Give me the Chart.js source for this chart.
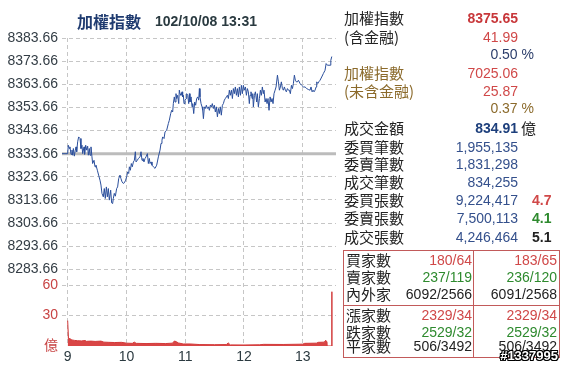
<!DOCTYPE html>
<html>
<head>
<meta charset="utf-8">
<script src="https://cdn.jsdelivr.net/npm/chart.js@4.4.0/dist/chart.umd.min.js"></script>
<style>
  body { margin: 0; width: 564px; height: 366px; background: #fff; position: relative; overflow: hidden; }
  #box { position: absolute; left: 0; top: 0; width: 338px; height: 366px; }
  .t { position: absolute; white-space: nowrap; }
  .line { position: absolute; background: #c25a5a; }
</style>
</head>
<body>
<div id="box"><canvas id="chart"></canvas></div>
<script>
// index, minutes after 09:00
var priceMin = [-5.8, 0, 0.6, 1.7, 2.3, 3.4, 4.4, 5.1, 5.8, 6.8,
  7.8, 8.5, 9.2, 10.2, 11.2, 12.6, 13.6, 14.6, 15.3, 16.7,
  17.3, 18.4, 19.4, 20.4, 21.1, 22.1, 22.8, 23.8, 24.8, 25.5,
  26.9, 27.9, 28.9, 30.3, 31.6, 33.0, 34.0, 35.0, 36.4, 37.4,
  38.4, 39.5, 40.5, 41.5, 42.5, 43.9, 44.9, 45.9, 46.6, 47.6,
  48.7, 50.0, 51.0, 52.1, 53.4, 54.4, 55.5, 56.8, 57.9, 59.2,
  60.2, 61.3, 62.3, 63.0, 64.0, 65.0, 66.0, 67.1, 68.1, 69.1,
  69.8, 71.1, 72.2, 73.9, 74.9, 75.9, 76.9, 77.9, 79.0, 80.0,
  81.4, 82.4, 83.4, 84.1, 85.1, 86.1, 87.5, 89.2, 90.9, 92.6,
  94.3, 95.3, 96.3, 97.0, 98.4, 99.4, 101.1, 102.8, 103.8, 105.2,
  106.2, 107.2, 107.9, 108.9, 109.6, 110.6, 111.3, 112.3, 113.4, 114.0,
  114.7, 115.7, 116.8, 117.4, 118.1, 118.8, 119.8, 120.9, 121.5, 122.6,
  123.6, 124.3, 124.9, 126.0, 127.0, 127.7, 128.7, 129.7, 130.7, 131.7,
  132.8, 133.8, 134.5, 135.1, 136.2, 137.2, 137.9, 138.6, 139.6, 140.6,
  141.6, 142.6, 143.7, 144.7, 145.7, 146.7, 147.7, 148.8, 149.8, 150.8,
  151.8, 152.9, 153.9, 154.9, 155.9, 156.9, 158.0, 159.0, 160.0, 161.0,
  162.1, 163.1, 164.1, 165.1, 166.1, 167.2, 168.2, 169.2, 170.2, 171.2,
  172.3, 173.3, 174.3, 175.3, 176.4, 177.4, 178.4, 179.4, 180.4, 181.5,
  182.5, 183.5, 184.5, 185.5, 186.2, 187.2, 188.3, 189.0, 189.6, 190.7,
  191.7, 193.0, 193.7, 194.7, 195.8, 196.8, 197.8, 198.8, 199.8, 200.5,
  201.6, 202.6, 203.6, 204.6, 205.6, 206.7, 207.7, 208.7, 209.7, 210.7,
  211.8, 212.8, 214.2, 215.2, 216.2, 217.2, 218.2, 219.3, 220.3, 221.3,
  222.3, 223.3, 224.4, 225.4, 226.4, 227.4, 228.5, 229.5, 230.5, 231.5,
  232.5, 233.6, 234.6, 235.6, 237.3, 239.0, 240.7, 242.4, 244.1, 245.8,
  247.5, 248.5, 249.6, 250.6, 251.6, 252.6, 253.7, 254.3, 255.4, 256.4,
  257.7, 259.4, 261.1, 262.8, 263.9, 265.2, 268.0, 268.7, 269.7];
var priceVal = [8333.66, 8333.66, 8337.3, 8335.9, 8336.6, 8333.4, 8335.2, 8333.0, 8335.9, 8332.6,
  8335.2, 8336.6, 8334.5, 8338.8, 8340.9, 8340.2, 8335.9, 8337.3, 8333.7, 8336.6,
  8333.4, 8337.3, 8335.2, 8336.9, 8333.0, 8335.9, 8333.0, 8336.6, 8332.3, 8329.4,
  8330.8, 8328.0, 8328.7, 8326.5, 8324.4, 8322.2, 8320.1, 8316.5, 8315.0, 8318.6,
  8314.3, 8319.3, 8315.0, 8318.6, 8313.6, 8317.9, 8312.4, 8312.1, 8314.3, 8316.5,
  8315.3, 8318.6, 8319.3, 8322.9, 8324.4, 8322.9, 8321.5, 8320.8, 8321.1, 8322.2,
  8323.7, 8325.8, 8325.1, 8328.0, 8326.5, 8329.4, 8328.0, 8330.1, 8330.8, 8334.5,
  8330.1, 8330.8, 8331.6, 8332.3, 8334.5, 8330.8, 8331.6, 8330.1, 8331.6, 8332.3,
  8333.7, 8329.4, 8331.6, 8329.4, 8330.1, 8328.7, 8328.0, 8327.3, 8328.7, 8332.3,
  8335.2, 8338.1, 8339.5, 8340.9, 8340.2, 8343.1, 8343.8, 8346.7, 8348.1, 8351.0,
  8352.4, 8351.7, 8355.3, 8358.2, 8356.0, 8359.6, 8357.5, 8358.9, 8355.3, 8361.1,
  8359.6, 8358.9, 8360.4, 8358.2, 8358.9, 8355.3, 8356.8, 8357.5, 8359.6, 8358.9,
  8355.3, 8359.6, 8356.0, 8358.2, 8353.9, 8355.3, 8351.0, 8356.0, 8354.6, 8357.5,
  8358.2, 8356.8, 8361.8, 8358.2, 8355.3, 8353.9, 8352.4, 8348.8, 8353.9, 8353.2,
  8354.6, 8353.2, 8353.9, 8352.4, 8354.6, 8353.9, 8355.3, 8353.2, 8354.6, 8351.7,
  8353.9, 8349.6, 8353.2, 8351.0, 8353.9, 8350.3, 8354.6, 8355.3, 8356.8, 8357.5,
  8358.2, 8358.9, 8357.5, 8361.1, 8358.9, 8361.1, 8357.5, 8361.8, 8359.6, 8362.5,
  8358.9, 8361.8, 8358.2, 8362.5, 8358.9, 8363.2, 8359.6, 8363.2, 8361.1, 8362.5,
  8358.9, 8361.8, 8360.4, 8355.3, 8358.9, 8360.4, 8357.5, 8359.6, 8353.9, 8358.9,
  8360.4, 8356.0, 8359.6, 8353.9, 8357.5, 8361.1, 8358.9, 8362.5, 8359.6, 8361.1,
  8356.0, 8357.5, 8355.3, 8357.5, 8352.4, 8358.2, 8356.0, 8357.5, 8355.3, 8359.6,
  8361.1, 8362.5, 8367.6, 8364.7, 8361.1, 8362.5, 8364.7, 8361.8, 8361.1, 8362.5,
  8361.1, 8360.4, 8361.8, 8361.1, 8361.1, 8359.6, 8363.2, 8361.8, 8364.0, 8367.6,
  8365.4, 8364.7, 8364.7, 8365.4, 8364.0, 8363.2, 8362.5, 8362.5, 8361.8, 8361.4,
  8361.1, 8362.5, 8360.4, 8361.1, 8360.4, 8361.1, 8362.5, 8364.7, 8364.0, 8364.7,
  8365.4, 8366.8, 8368.3, 8369.7, 8372.6, 8371.9, 8371.9, 8374.0, 8375.65];
var prevClose = 8333.66;

// volume, 億
var volMin = [0, 0.8, 3, 4, 7, 10, 14, 18, 19, 24,
  28, 34, 37, 42, 48, 55, 60, 66, 68, 70,
  80, 90, 100, 107, 109, 111, 113, 118, 125, 135,
  150, 162, 164, 166, 180, 196, 200, 220, 240, 242,
  254, 256, 262, 263.5, 264.8, 265, 269.5, 269.7, 269.9];
var volVal = [25, 7.5, 7, 6, 5.5, 5.2, 5, 5.4, 4.6, 4.8,
  4.5, 4.8, 3.8, 3.6, 3.4, 3.6, 2.8, 2.6, 3.8, 2.6,
  2.4, 2.6, 2.4, 2.8, 4.9, 4.2, 3, 2, 2, 1.4,
  1.3, 1.4, 3, 1.1, 1, 1.2, 1.6, 1.5, 1.8, 2.6,
  2.8, 3.6, 3.8, 5.6, 4, 0, 0, 53.4, 0];

var hourTicks = [0, 60, 120, 180, 240];
var hourLabels = ['9', '10', '11', '12', '13'];
var priceTicks = [8283.66, 8293.66, 8303.66, 8313.66, 8323.66, 8333.66, 8343.66, 8353.66, 8363.66, 8373.66, 8383.66];
var volTicks = [0, 30, 60];
var volLabels = ['億', '30', '60'];

var xMin = -5.8, xMax = 274;

function points(xs, ys) {
  return xs.map(function(x, i) { return {x: x, y: ys[i]}; });
}

var gridColor = '#c6c6c6';
var tickFont = {family: '"Liberation Sans", Arial, "Noto Sans CJK TC"', size: 14};

new Chart(document.getElementById('chart'), {
  type: 'line',
  data: {
    datasets: [{
      data: points(priceMin, priceVal),
      borderColor: '#2b4f9c',
      borderWidth: 1,
      pointRadius: 0,
      yAxisID: 'y'
    }, {
      data: [{x: xMin, y: prevClose}, {x: xMax, y: prevClose}],
      borderColor: '#bcbcbc',
      borderWidth: 3,
      pointRadius: 0,
      yAxisID: 'y'
    }, {
      data: points(volMin, volVal),
      borderColor: '#d23b3b',
      backgroundColor: '#d94545',
      borderWidth: 1,
      fill: 'origin',
      pointRadius: 0,
      yAxisID: 'y2'
    }]
  },
  options: {
    responsive: true,
    maintainAspectRatio: false,
    animation: false,
    devicePixelRatio: 1,
    layout: {padding: {top: 38, right: 2, left: 0, bottom: 0}},
    plugins: {legend: {display: false}, tooltip: {enabled: false}, title: {display: false}},
    scales: {
      x: {
        type: 'linear',
        min: xMin,
        max: xMax,
        afterBuildTicks: function(s) { s.ticks = hourTicks.map(function(v) { return {value: v}; }); },
        afterFit: function(s) { s.height = 20; },
        ticks: {
          autoSkip: false,
          maxRotation: 0,
          padding: 3,
          color: '#2b3a40',
          font: tickFont,
          callback: function(v) { return hourLabels[hourTicks.indexOf(v)]; }
        },
        grid: {color: gridColor, drawTicks: false},
        border: {display: false, dash: [4, 3]}
      },
      y: {
        type: 'linear',
        position: 'left',
        stack: 'v',
        stackWeight: 231.6,
        weight: 1,
        min: 8283.66,
        max: 8383.66,
        afterBuildTicks: function(s) { s.ticks = priceTicks.map(function(v) { return {value: v}; }); },
        afterFit: function(s) { s.width = 62; },
        ticks: {
          autoSkip: false,
          padding: 4,
          color: '#333d45',
          font: tickFont,
          callback: function(v) { return v.toFixed(2); }
        },
        grid: {color: gridColor, drawTicks: false},
        border: {display: false, dash: [4, 3]}
      },
      y2: {
        type: 'linear',
        position: 'left',
        stack: 'v',
        stackWeight: 76.7,
        weight: 0,
        min: 0,
        max: 75.4,
        afterBuildTicks: function(s) { s.ticks = volTicks.map(function(v) { return {value: v}; }); },
        afterFit: function(s) { s.width = 62; },
        ticks: {
          autoSkip: false,
          padding: 4,
          color: '#c84444',
          font: tickFont,
          callback: function(v) { return volLabels[volTicks.indexOf(v)]; }
        },
        grid: {
          drawTicks: false,
          color: function(ctx) { return ctx.tick && ctx.tick.value === 0 ? 'rgba(0,0,0,0)' : gridColor; }
        },
        border: {display: false, dash: [4, 3]}
      }
    }
  }
});

// text around the chart
var CJK = '"Noto Sans CJK TC", sans-serif';
var NUM = '"Liberation Sans", Arial, sans-serif';

function put(text, x, y, font, color, right) {
  var d = document.createElement('div');
  d.className = 't';
  d.textContent = text;
  d.style.font = font;
  d.style.lineHeight = '18px';
  d.style.color = color;
  d.style.top = (y - 9) + 'px';
  if (right) d.style.right = (564 - x) + 'px';
  else d.style.left = x + 'px';
  document.body.appendChild(d);
  return d;
}

put('加權指數', 77, 20.5, 'bold 16px ' + CJK, '#1f3b70');
put('102/10/08 13:31', 155, 20.5, 'bold 14px ' + NUM, '#2a3a40');

var RED = '#d04848', GREEN = '#2e8a2e', BLUE = '#34508c', BROWN = '#8b6a2b', DARK = '#222';

var rowY = [18.3, 37.3, 54, 73.3, 90.7, 108.3, 128, 146.7, 164.3, 181.7, 200, 218.3, 236.7];
var rowLabel = ['加權指數', '(含金融)', '', '加權指數', '(未含金融)', '', '成交金額',
  '委買筆數', '委賣筆數', '成交筆數', '委買張數', '委賣張數', '成交張數'];
var rowLabelColor = [DARK, DARK, DARK, BROWN, BROWN, BROWN, DARK, DARK, DARK, DARK, DARK, DARK, DARK];
var rowValue = ['8375.65', '41.99', '0.50 %', '7025.06', '25.87', '0.37 %', '834.91',
  '1,955,135', '1,831,298', '834,255', '9,224,417', '7,500,113', '4,246,464'];
var rowValueColor = ['#c8373a', RED, '#2c3e6b', RED, RED, BROWN, '#1d3f7c',
  BLUE, BLUE, BLUE, BLUE, BLUE, BLUE];
var rowBold = [true, false, false, false, false, false, true, false, false, false, false, false, false];
var rowEnd = [518, 518, 534, 518, 518, 534, 518, 518, 518, 518, 518, 518, 518];

rowY.forEach(function(y, i) {
  if (rowLabel[i]) put(rowLabel[i], 344, y, '15px ' + CJK, rowLabelColor[i]);
  put(rowValue[i], rowEnd[i], y, (rowBold[i] ? 'bold ' : '') + '14px ' + NUM, rowValueColor[i], true);
});
put('億', 521, 128, '15px ' + CJK, DARK);
put('4.7', 532, 200, 'bold 14px ' + NUM, RED);
put('4.1', 532, 218.3, 'bold 14px ' + NUM, GREEN);
put('5.1', 532, 236.7, 'bold 14px ' + NUM, DARK);

// bottom table
function rule(l, t, w, h) {
  var d = document.createElement('div');
  d.className = 'line';
  d.style.left = l + 'px'; d.style.top = t + 'px';
  d.style.width = w + 'px'; d.style.height = h + 'px';
  document.body.appendChild(d);
}
rule(343, 250, 217, 1);
rule(343, 305, 217, 1);
rule(343, 357, 217, 1);
rule(343, 250, 1, 108);
rule(559, 250, 1, 108);
rule(473, 250, 1, 108);

var tabY = [260, 277.3, 293.5, 315, 331.8, 346];
var tabLabel = ['買家數', '賣家數', '內外家', '漲家數', '跌家數', '平家數'];
var tabA = ['180/64', '237/119', '6092/2566', '2329/34', '2529/32', '506/3492'];
var tabB = ['183/65', '236/120', '6091/2568', '2329/34', '2529/32', '506/3492'];
var tabColor = [RED, GREEN, DARK, RED, GREEN, DARK];

tabY.forEach(function(y, i) {
  put(tabLabel[i], 346, y, '15px ' + CJK, DARK);
  put(tabA[i], 472, y, '14px ' + NUM, tabColor[i], true);
  put(tabB[i], 557, y, '14px ' + NUM, tabColor[i], true);
});

var tag = put('#1337995', 558, 356, 'bold 13px ' + NUM, '#fff', true);
tag.style.textShadow = '1px 0 #000, -1px 0 #000, 0 1px #000, 0 -1px #000, 1px 1px #000, -1px -1px #000, 1px -1px #000, -1px 1px #000';
</script>
</body>
</html>
